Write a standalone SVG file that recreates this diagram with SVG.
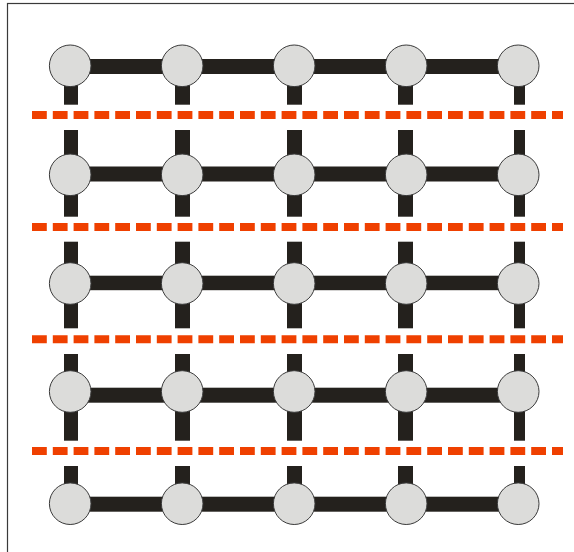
<svg xmlns="http://www.w3.org/2000/svg" width="574" height="552" viewBox="0 0 574 552">
<style>
.frame{fill:none;stroke:#3a3a3a;stroke-width:1.2}
.bar{fill:#24211d}
.sep{stroke:#ef4000;stroke-width:8;stroke-dasharray:14.8 6;fill:none}
.node{fill:#dcdcda;stroke:#3a3a3a;stroke-width:1}
</style>
<rect width="574" height="552" fill="#ffffff"/>
<rect class="frame" x="7.5" y="3.5" width="620" height="600"/>
<g id="separators">
<line class="sep" x1="32" y1="115" x2="563" y2="115"/>
<line class="sep" x1="32" y1="227" x2="563" y2="227"/>
<line class="sep" x1="32" y1="339.3" x2="563" y2="339.3"/>
<line class="sep" x1="32" y1="451" x2="563" y2="451"/>
</g>
<g id="connectors">
<rect class="bar" x="70" y="59" width="448" height="15"/>
<rect class="bar" x="70" y="166.5" width="448" height="15"/>
<rect class="bar" x="70" y="275.7" width="448" height="14.5"/>
<rect class="bar" x="70" y="387.7" width="448" height="15"/>
<rect class="bar" x="70" y="496.7" width="448" height="15"/>
<rect class="bar" x="64" y="66" width="14" height="38.7"/>
<rect class="bar" x="175" y="66" width="15" height="38.7"/>
<rect class="bar" x="287" y="66" width="15" height="38.7"/>
<rect class="bar" x="398" y="66" width="15" height="38.7"/>
<rect class="bar" x="514" y="66" width="11" height="38.7"/>
<rect class="bar" x="64" y="130" width="14" height="86.7"/>
<rect class="bar" x="175" y="130" width="15" height="86.7"/>
<rect class="bar" x="287" y="130" width="15" height="86.7"/>
<rect class="bar" x="398" y="130" width="15" height="86.7"/>
<rect class="bar" x="514" y="130" width="11" height="86.7"/>
<rect class="bar" x="64" y="241.7" width="14" height="86.6"/>
<rect class="bar" x="175" y="241.7" width="15" height="86.6"/>
<rect class="bar" x="287" y="241.7" width="15" height="86.6"/>
<rect class="bar" x="398" y="241.7" width="15" height="86.6"/>
<rect class="bar" x="514" y="241.7" width="11" height="86.6"/>
<rect class="bar" x="64" y="354" width="14" height="86.7"/>
<rect class="bar" x="175" y="354" width="15" height="86.7"/>
<rect class="bar" x="287" y="354" width="15" height="86.7"/>
<rect class="bar" x="398" y="354" width="15" height="86.7"/>
<rect class="bar" x="514" y="354" width="11" height="86.7"/>
<rect class="bar" x="64" y="466" width="14" height="37"/>
<rect class="bar" x="175" y="466" width="15" height="37"/>
<rect class="bar" x="287" y="466" width="15" height="37"/>
<rect class="bar" x="398" y="466" width="15" height="37"/>
<rect class="bar" x="514" y="466" width="11" height="37"/>
</g>
<g id="n1-1"><circle class="node" cx="70.2" cy="65.8" r="20.8"/></g>
<g id="n1-2"><circle class="node" cx="182.2" cy="65.8" r="20.8"/></g>
<g id="n1-3"><circle class="node" cx="294.2" cy="65.8" r="20.8"/></g>
<g id="n1-4"><circle class="node" cx="406.2" cy="65.8" r="20.8"/></g>
<g id="n1-5"><circle class="node" cx="518.2" cy="65.8" r="20.8"/></g>
<g id="n2-1"><circle class="node" cx="70.2" cy="174.8" r="20.8"/></g>
<g id="n2-2"><circle class="node" cx="182.2" cy="174.8" r="20.8"/></g>
<g id="n2-3"><circle class="node" cx="294.2" cy="174.8" r="20.8"/></g>
<g id="n2-4"><circle class="node" cx="406.2" cy="174.8" r="20.8"/></g>
<g id="n2-5"><circle class="node" cx="518.2" cy="174.8" r="20.8"/></g>
<g id="n3-1"><circle class="node" cx="70.2" cy="283.5" r="20.8"/></g>
<g id="n3-2"><circle class="node" cx="182.2" cy="283.5" r="20.8"/></g>
<g id="n3-3"><circle class="node" cx="294.2" cy="283.5" r="20.8"/></g>
<g id="n3-4"><circle class="node" cx="406.2" cy="283.5" r="20.8"/></g>
<g id="n3-5"><circle class="node" cx="518.2" cy="283.5" r="20.8"/></g>
<g id="n4-1"><circle class="node" cx="70.2" cy="391.5" r="20.8"/></g>
<g id="n4-2"><circle class="node" cx="182.2" cy="391.5" r="20.8"/></g>
<g id="n4-3"><circle class="node" cx="294.2" cy="391.5" r="20.8"/></g>
<g id="n4-4"><circle class="node" cx="406.2" cy="391.5" r="20.8"/></g>
<g id="n4-5"><circle class="node" cx="518.2" cy="391.5" r="20.8"/></g>
<g id="n5-1"><circle class="node" cx="70.2" cy="503.7" r="20.8"/></g>
<g id="n5-2"><circle class="node" cx="182.2" cy="503.7" r="20.8"/></g>
<g id="n5-3"><circle class="node" cx="294.2" cy="503.7" r="20.8"/></g>
<g id="n5-4"><circle class="node" cx="406.2" cy="503.7" r="20.8"/></g>
<g id="n5-5"><circle class="node" cx="518.2" cy="503.7" r="20.8"/></g>
</svg>
